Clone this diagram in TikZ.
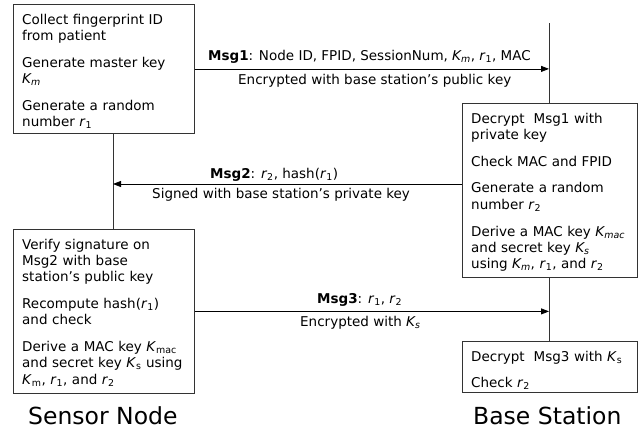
\documentclass[tikz,border=0pt]{standalone}
\usepackage{fontspec}
\setmainfont{DejaVu Sans}
\usetikzlibrary{arrows.meta}
\newcommand\sbs[1]{\textsubscript{#1}}
\begin{document}
\begin{tikzpicture}[x=1pt,y=-1pt,
  box/.style={draw=black!80, line width=0.8pt, inner sep=0pt, anchor=north west},
  txt/.style={inner sep=0pt, anchor=base west, align=left, text width=220pt,
    font=\fontsize{13.5}{16.3}\selectfont},
  lbl/.style={inner sep=0pt, anchor=base west, font=\fontsize{13.5}{16.3}\selectfont},
  ttl/.style={inner sep=0pt, anchor=base west, font=\fontsize{23.5}{28}\selectfont},
  life/.style={draw=black!80, line width=0.8pt},
  msg/.style={draw=black, line width=0.8pt, -{Triangle[length=8pt,width=6pt]}}]
\useasboundingbox (0,0) rectangle (644,431);
% boxes
\node[box, minimum width=181, minimum height=129] (A) at (13,4) {};
\node[box, minimum width=181, minimum height=164] (B) at (13,229) {};
\node[box, minimum width=175, minimum height=174] (C) at (462,103) {};
\node[box, minimum width=175, minimum height=51] (D) at (462,341) {};
% lifeline coordinates
\coordinate (SNx) at (113,0);
\coordinate (BSx) at (549,0);
\coordinate (BStop) at (549,23);
\coordinate (m2y) at (0,184);
% box texts
\node[txt] (At) at (22,24) {Collect fingerprint ID\\from patient\\[10.5pt]Generate master key\\\textit{K\sbs{m}}\\[10.5pt]Generate a random\\number \textit{r}\sbs{1}};
\node[txt] (Bt) at (22,249) {Verify signature on\\Msg2 with base\\station’s public key\\[10.5pt]Recompute hash(\textit{r}\sbs{1})\\and check\\[10.5pt]Derive a MAC key \textit{K}\sbs{mac}\\and secret key \textit{K}\sbs{s} using\\\textit{K}\sbs{m}, \textit{r}\sbs{1}, and \textit{r}\sbs{2}};
\node[txt] (Ct) at (471,123) {Decrypt\ \ Msg1 with\\private key\\[10.5pt]Check MAC and FPID\\[10.5pt]Generate a random\\number \textit{r}\sbs{2}\\[10.5pt]Derive a MAC key \textit{K\sbs{mac}}\\and secret key \textit{K\sbs{s}}\\using \textit{K\sbs{m}}, \textit{r}\sbs{1}, and \textit{r}\sbs{2}};
\node[txt] (Dt) at (471,361) {Decrypt\ \ Msg3 with \textit{K}\sbs{s}\\[10.5pt]Check \textit{r}\sbs{2}};
% lifelines
\draw[life] (A.south -| SNx) -- (B.north -| SNx);
\draw[life] (BStop) -- (C.north -| BSx);
\draw[life] (C.south -| BSx) -- (D.north -| BSx);
% messages
\draw[msg] (A.east) -- (A.east -| BSx);
\draw[msg] (C.west |- m2y) -- (m2y -| SNx);
\draw[msg] (B.east) -- (B.east -| BSx);
% labels
\node[lbl] (m1a) at (208,60) {\textbf{Msg1}: Node ID, FPID, SessionNum, \textit{K\sbs{m}}, \textit{r}\sbs{1}, MAC};
\node[lbl] (m1b) at (238,84) {Encrypted with base station’s public key};
\node[lbl] (m2a) at (210,178) {\textbf{Msg2}: \textit{r}\sbs{2}, hash(\textit{r}\sbs{1})};
\node[lbl] (m2b) at (152,198) {Signed with base station’s private key};
\node[lbl] (m3a) at (317,303) {\textbf{Msg3}: \textit{r}\sbs{1}, \textit{r}\sbs{2}};
\node[lbl] (m3b) at (300,326) {Encrypted with \textit{K\sbs{s}}};
% titles
\node[ttl] (sn) at (28,424) {Sensor Node};
\node[ttl] (bs) at (473,424) {Base Station};
\end{tikzpicture}
\end{document}
